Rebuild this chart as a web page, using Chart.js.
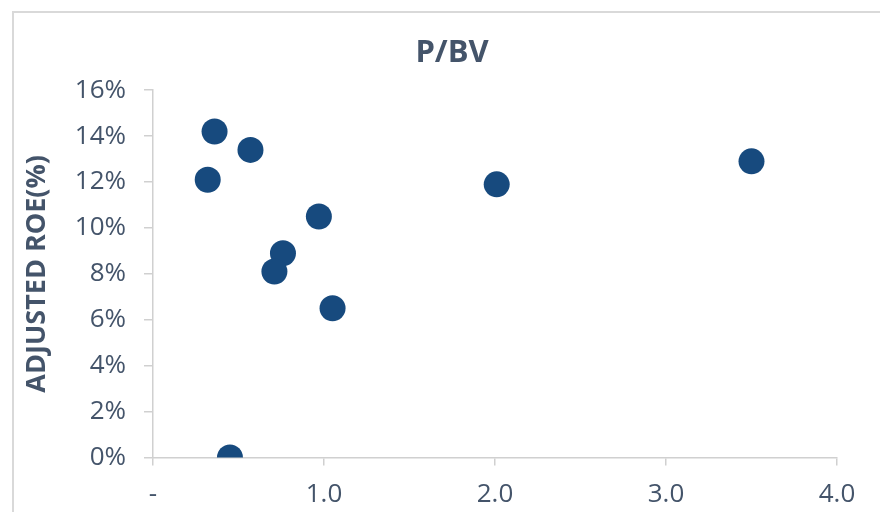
<!DOCTYPE html>
<html>
<head>
<meta charset="utf-8">
<script src="https://cdn.jsdelivr.net/npm/chart.js@4/dist/chart.umd.min.js"></script>
<style>
  html, body { margin: 0; padding: 0; background: #fff; overflow: hidden; }
  #wrap { position: relative; width: 880px; height: 512px; }
  #frame { position: absolute; left: 12px; top: 11px; width: 900px; height: 540px; border: 2px solid #d9d9d9; box-sizing: border-box; }
  canvas { position: absolute; left: 0; top: 0; }
</style>
</head>
<body>
<div id="wrap">
  <div id="frame"></div>
  <canvas id="chart" width="880" height="512"></canvas>
</div>
<script>
// P/BV vs adjusted ROE
const pbv = [0.36, 0.57, 0.32, 0.97, 0.76, 0.71, 1.05, 0.45, 2.01, 3.50];
const roe = [14.2, 13.4, 12.1, 10.5, 8.9, 8.1, 6.5, 0.0, 11.9, 12.9];
const xTicks = [0, 1, 2, 3, 4];
const yTicks = [0, 2, 4, 6, 8, 10, 12, 14, 16];

const TEXT = "#44546A";
const AXIS = "#d0d0d0";
const FONT = "'Open Sans', sans-serif";

const points = pbv.map((x, i) => ({ x, y: roe[i] }));

// title sits a bit right of the canvas centre in the original
const shiftTitle = {
  id: "shiftTitle",
  afterLayout(chart) {
    if (chart.titleBlock) chart.titleBlock.left = 67;
  }
};

new Chart(document.getElementById("chart").getContext("2d"), {
  type: "scatter",
  data: {
    datasets: [{
      data: points,
      backgroundColor: "#174A7E",
      borderWidth: 0,
      pointRadius: 13,
      pointHoverRadius: 13
    }]
  },
  options: {
    responsive: false,
    animation: false,
    layout: { padding: { left: 0, right: 43, top: 0, bottom: 0 } },
    plugins: {
      legend: { display: false },
      tooltip: { enabled: false },
      title: {
        display: true,
        text: "P/BV",
        color: TEXT,
        font: { family: FONT, size: 31, weight: "bold" },
        padding: { top: 35, bottom: 18 }
      }
    },
    scales: {
      x: {
        type: "linear",
        min: 0, max: 4,
        afterBuildTicks: s => { s.ticks = xTicks.map(v => ({ value: v })); },
        afterFit: s => { s.height = 54.5; },
        ticks: {
          color: TEXT,
          font: { family: FONT, size: 26 },
          padding: 13,
          callback: v => v === 0 ? "-" : v.toFixed(1)
        },
        grid: { drawOnChartArea: false, drawTicks: true, tickLength: 8, color: AXIS, lineWidth: 1.5 },
        border: { color: AXIS, width: 1.5 }
      },
      y: {
        type: "linear",
        min: 0, max: 16,
        afterBuildTicks: s => { s.ticks = yTicks.map(v => ({ value: v })); },
        afterFit: s => { s.width = 153; },
        ticks: {
          color: TEXT,
          font: { family: FONT, size: 26 },
          padding: 18,
          callback: v => v + "%"
        },
        grid: { drawOnChartArea: false, drawTicks: true, tickLength: 9, color: AXIS, lineWidth: 1.5 },
        border: { color: AXIS, width: 1.5 },
        title: {
          display: true,
          text: "ADJUSTED ROE(%)",
          color: TEXT,
          font: { family: FONT, size: 27, weight: "bold" },
          padding: { top: 21, bottom: 0 }
        }
      }
    }
  },
  plugins: [shiftTitle]
});
</script>
</body>
</html>
